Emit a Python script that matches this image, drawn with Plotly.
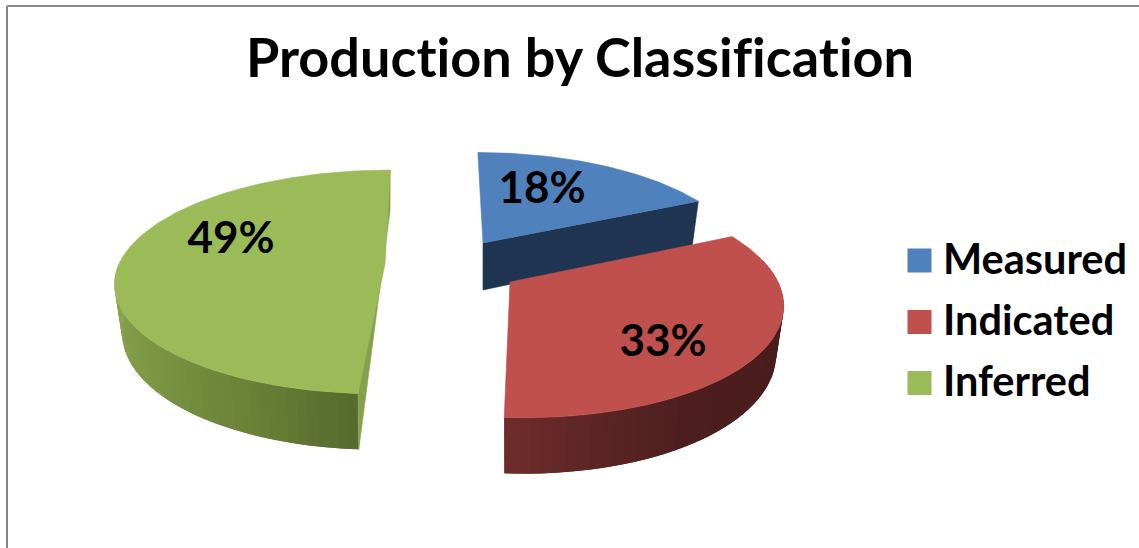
import math
import plotly.graph_objects as go

categories = ["Measured", "Indicated", "Inferred"]
values = [18, 33, 49]
percent_labels = ["18%", "33%", "49%"]
title_text = "Production by Classification"

top_colors = ["#4F81BD", "#C0504D", "#9BBB59"]
FONT = "Lato, Carlito, Calibri, sans-serif"
P = 0.16        # perspective strength
K = 0.972       # bottom rim shrink toward wedge axis
W, H = 1139, 548

# projected geometry of each exploded wedge (layout, not data)
geom = {
    "Measured":  dict(cx=483, cy=243, rx=257, ry=105, s=-6, d=47),
    "Indicated": dict(cx=510, cy=282, rx=268, ry=114, s=-12, d=47),
    "Inferred":  dict(cx=385, cy=264, rx=266, ry=109, s=6, d=47),
}
START = 0.0


def project(g, theta, bottom=False):
    u, v = math.sin(theta), math.cos(theta)
    w = 1 + P * v
    x = (g["rx"] * u + g["s"] * v) / w
    y = -g["ry"] * v / w
    if bottom:
        return g["cx"] + K * x, g["cy"] + y + g["d"] / w
    return g["cx"] + x, g["cy"] + y


def apex(g, bottom=False):
    return g["cx"], g["cy"] + (g["d"] if bottom else 0)


def mix(c1, c2, t):
    a = [int(c1[i:i + 2], 16) for i in (1, 3, 5)]
    b = [int(c2[i:i + 2], 16) for i in (1, 3, 5)]
    return "#%02x%02x%02x" % tuple(round(p + (q - p) * t) for p, q in zip(a, b))


fig = go.Figure()


def poly(points, color, lw=0.6):
    xs = [p[0] for p in points] + [points[0][0]]
    ys = [p[1] for p in points] + [points[0][1]]
    fig.add_trace(go.Scatter(x=xs, y=ys, mode="lines", fill="toself", fillcolor=color,
                             line=dict(color=color, width=lw), hoverinfo="skip",
                             showlegend=False))


# wedge spans from the values
total = sum(values)
spans = []
acc = START
for v in values:
    a0 = acc
    acc += 2 * math.pi * v / total
    spans.append((a0, acc))


def top_face(name, a0, a1, color):
    g = geom[name]
    n = 120
    pts = [apex(g)] + [project(g, a0 + (a1 - a0) * i / n) for i in range(n + 1)]
    poly(pts, color)


def rim(name, a0, a1, stops, n=46):
    g = geom[name]
    step = (a1 - a0) / n
    for i in range(n):
        t0 = a0 + step * i
        # each strip runs on under the next one so no seam shows
        t1 = a0 + step * min(i + 2, n)
        pts = []
        for j in range(7):
            pts.append(project(g, t0 + (t1 - t0) * j / 6))
        for j in range(6, -1, -1):
            pts.append(project(g, t0 + (t1 - t0) * j / 6, bottom=True))
        f = (i + 0.5) / n * (len(stops) - 1)
        k = min(int(f), len(stops) - 2)
        poly(pts, mix(stops[k], stops[k + 1], f - k), lw=0)


# Measured: blue wedge with dark cut wall
m0, m1 = spans[0]
gm = geom["Measured"]
poly([apex(gm), project(gm, m1), project(gm, m1, True), apex(gm, True)], "#1F3552")
top_face("Measured", m0, m1, top_colors[0])

# Inferred: green wedge
i0, i1 = spans[2]
gi = geom["Inferred"]
rim("Inferred", i0, i0 + (i1 - i0) * 0.5, ["#566A2E", "#6B8238", "#7A9342", "#85A04B", "#8AA64E"])
poly([project(gi, i1), project(gi, i0), project(gi, i0, True), project(gi, i1, True)], "#87A04C")
top_face("Inferred", i0, i1, top_colors[2])

# Indicated: red wedge
n0, n1 = spans[1]
rim("Indicated", n0 + 0.25, n1, ["#451B1B", "#491C1C", "#4A1C1C", "#4C1D1D", "#4E1E1E", "#5C2524", "#6E2D2C"])
top_face("Indicated", n0, n1, top_colors[1])

# percent labels
fig.add_trace(go.Scatter(x=[542, 663, 231], y=[192, 345, 242], mode="text", text=percent_labels,
                         textfont=dict(family=FONT, size=44, color="#000000", weight="bold"),
                         hoverinfo="skip", showlegend=False))

# legend
swatch_y = [260.5, 322, 383]
label_y = [264, 325, 386]
fig.add_trace(go.Scatter(x=[919.5] * 3, y=swatch_y, mode="markers",
                         marker=dict(symbol="square", size=24, color=top_colors, line=dict(width=0)),
                         hoverinfo="skip", showlegend=False))
fig.add_trace(go.Scatter(x=[943] * 3, y=label_y, mode="text", text=categories,
                         textposition="middle right",
                         textfont=dict(family=FONT, size=41.5, color="#000000", weight="bold"),
                         hoverinfo="skip", showlegend=False))

axis = dict(visible=False, fixedrange=True)
fig.update_layout(
    width=W, height=H, margin=dict(l=0, r=0, t=0, b=0),
    paper_bgcolor="white", plot_bgcolor="white",
    xaxis=dict(range=[0, W], **axis),
    yaxis=dict(range=[H, 0], **axis),
    title=dict(text="<b>" + title_text + "</b>", x=580 / W, y=1 - 58 / H,
               xanchor="center", yanchor="middle",
               font=dict(family=FONT, size=54, color="#000000")),
    shapes=[
        dict(type="line", xref="paper", yref="paper", x0=7 / W, x1=1, y0=1 - 6 / H, y1=1 - 6 / H,
             line=dict(color="#868686", width=2)),
        dict(type="line", xref="paper", yref="paper", x0=7 / W, x1=7 / W, y0=1 - 6 / H, y1=0,
             line=dict(color="#868686", width=2)),
    ],
)
page_fix = """
document.body.style.margin = '0';
document.body.style.overflow = 'hidden';
var st = document.createElement('style');
st.textContent = 'svg text { font-variant-ligatures: none !important; font-feature-settings: "liga" 0, "clig" 0 !important; }';
document.head.appendChild(st);
"""
fig.write_html("out.html", config=dict(displayModeBar=False), post_script=page_fix)
